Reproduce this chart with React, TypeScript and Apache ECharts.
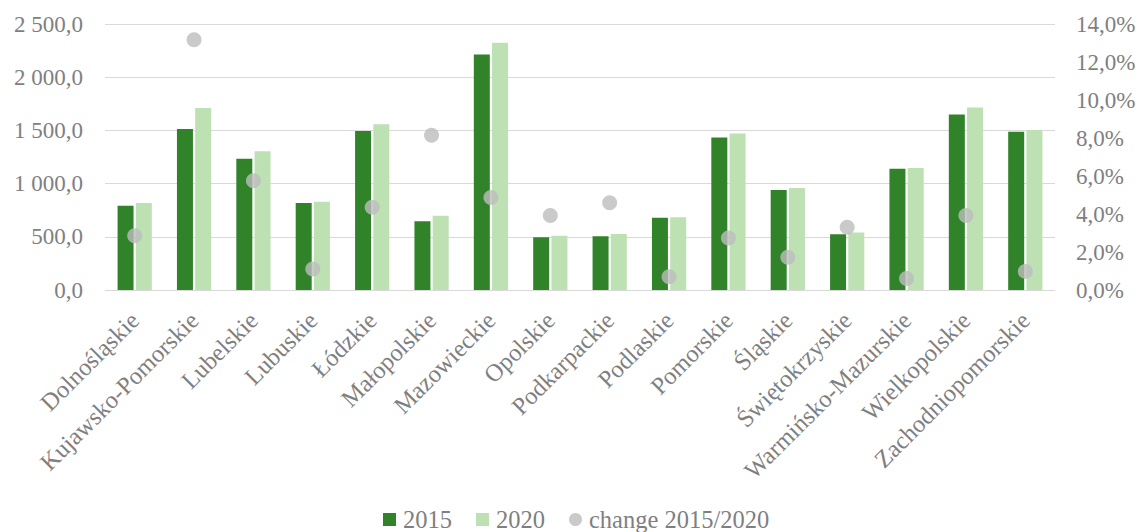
import React, { useEffect, useRef } from "react";
import * as echarts from "echarts";

const categories = [
  "Dolnośląskie", "Kujawsko-Pomorskie", "Lubelskie", "Lubuskie", "Łódzkie",
  "Małopolskie", "Mazowieckie", "Opolskie", "Podkarpackie", "Podlaskie",
  "Pomorskie", "Śląskie", "Świętokrzyskie", "Warmińsko-Mazurskie",
  "Wielkopolskie", "Zachodniopomorskie",
];
const values2015 = [792, 1513, 1234, 818, 1494, 645, 2214, 495, 504, 680, 1434, 940, 523, 1140, 1650, 1488];
const values2020 = [818, 1710, 1303, 830, 1557, 698, 2324, 510, 526, 683, 1472, 959, 541, 1147, 1716, 1504];
const change = [0.0285, 0.1317, 0.0575, 0.0111, 0.0436, 0.0814, 0.0487, 0.0392, 0.0459, 0.0070, 0.0274, 0.0172, 0.0330, 0.0061, 0.0392, 0.0098];

const FONT = "Liberation Serif";
const TXT = "#7f7f7f";

function fmtNum(v: number): string {
  const s = v.toFixed(1);
  const [i, d] = s.split(".");
  const withSep = i.replace(/\B(?=(\d{3})+(?!\d))/g, " ");
  return withSep + "," + d;
}
function fmtPct(v: number): string {
  return (v * 100).toFixed(1).replace(".", ",") + "%";
}

export default function App() {
  const ref = useRef<HTMLDivElement>(null);
  useEffect(() => {
    if (!ref.current) return;
    const chart = echarts.init(ref.current, undefined, { renderer: "svg" });
    chart.setOption({
      animation: false,
      textStyle: { fontFamily: FONT, color: TXT },
      grid: { left: 105, right: 86, top: 24, bottom: 242, containLabel: false },
      legend: {
        top: 507,
        left: 383,
        padding: 0,
        itemWidth: 13,
        itemHeight: 13,
        itemGap: 24,
        textStyle: {
          fontFamily: FONT,
          fontSize: 24.5,
          lineHeight: 24,
          color: TXT,
          padding: [0, 0, 0, 2],
        },
        data: [
          { name: "2015", icon: "rect" },
          { name: "2020", icon: "rect" },
          { name: "change 2015/2020", icon: "circle" },
        ],
      },
      xAxis: {
        type: "category",
        data: categories,
        axisTick: { show: false },
        axisLine: { lineStyle: { color: "#d9d9d9", width: 1 } },
        axisLabel: {
          interval: 0,
          rotate: 45,
          margin: 26,
          fontFamily: FONT,
          fontSize: 24.5,
          color: TXT,
        },
      },
      yAxis: [
        {
          type: "value",
          min: 0,
          max: 2500,
          interval: 500,
          axisLine: { show: false },
          axisTick: { show: false },
          splitLine: { lineStyle: { color: "#d9d9d9", width: 1 } },
          axisLabel: {
            formatter: fmtNum,
            margin: 22,
            fontFamily: FONT,
            fontSize: 23,
            color: TXT,
          },
        },
        {
          type: "value",
          min: 0,
          max: 0.14,
          interval: 0.02,
          axisLine: { show: false },
          axisTick: { show: false },
          splitLine: { show: false },
          axisLabel: {
            formatter: fmtPct,
            margin: 21,
            fontFamily: FONT,
            fontSize: 23,
            color: TXT,
          },
        },
      ],
      series: [
        {
          name: "2015",
          type: "bar",
          data: values2015,
          barWidth: 16,
          barGap: "14%",
          itemStyle: { color: "#31832a" },
        },
        {
          name: "2020",
          type: "bar",
          data: values2020,
          barWidth: 16,
          barGap: "14%",
          itemStyle: { color: "#bde1b3" },
        },
        {
          name: "change 2015/2020",
          type: "scatter",
          yAxisIndex: 1,
          data: change,
          symbol: "circle",
          symbolSize: 15,
          itemStyle: { color: "#bdbdbd" },
        },
      ],
    });
    return () => chart.dispose();
  }, []);
  return (
    <div
      ref={ref}
      style={{ position: "absolute", left: 0, top: 0, width: 1141, height: 532 }}
    />
  );
}
